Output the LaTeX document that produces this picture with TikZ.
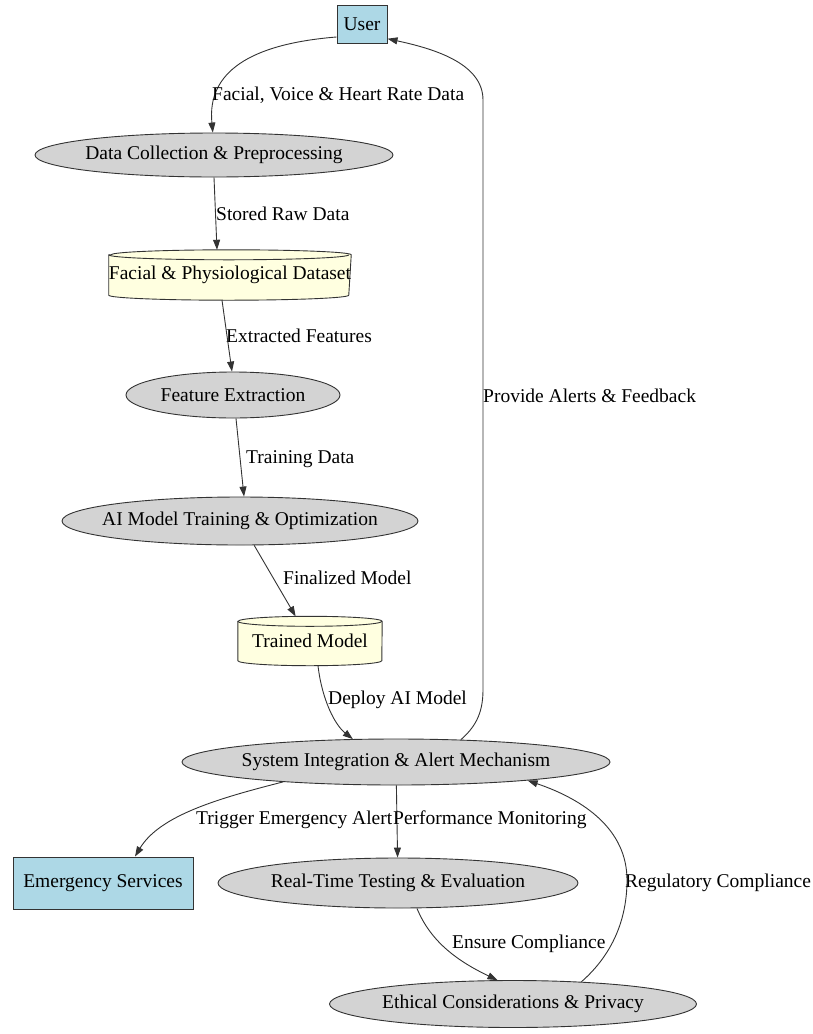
\documentclass[tikz,border=0pt]{standalone}
\usepackage{fontspec}
\setmainfont{Liberation Serif}
\usetikzlibrary{shapes.geometric,arrows.meta,backgrounds}
\definecolor{boxblue}{HTML}{ADD8E6}
\definecolor{ellgray}{HTML}{D3D3D3}
\definecolor{cylyellow}{HTML}{FFFFE0}
\definecolor{linecol}{HTML}{333333}
\newcommand\mycyl[2]{%
  \begin{scope}[on background layer]
  \filldraw[cylstyle] ([yshift=-5pt]#1.north west) -- ([yshift=5pt]#1.south west)
    arc[start angle=180,end angle=360,x radius=#2,y radius=5pt]
    -- ([yshift=-5pt]#1.north east)
    arc[start angle=0,end angle=180,x radius=#2,y radius=5pt] -- cycle;
  \draw[cylstyle,fill=none] ([yshift=-5pt]#1.north west)
    arc[start angle=180,end angle=360,x radius=#2,y radius=5pt];
  \end{scope}}
\begin{document}
\begin{tikzpicture}[x=1pt,y=-1pt,
  font=\fontsize{19.5}{22}\selectfont,
  boxnode/.style={rectangle,draw=linecol,line width=1pt,fill=boxblue,inner sep=0pt},
  ellnode/.style={ellipse,draw=linecol,line width=0.9pt,fill=ellgray,inner xsep=-18pt,inner ysep=0pt},
  cylnode/.style={rectangle,draw=none,inner sep=0pt},
  cylstyle/.style={draw=linecol,line width=0.9pt,fill=cylyellow},
  edge/.style={draw=linecol,line width=0.9pt,-{Triangle[length=10pt,width=7pt]}},
  elabel/.style={anchor=west,inner sep=0pt}]
\useasboundingbox (0,0) rectangle (812,1034);

\node[boxnode,minimum width=50pt,minimum height=38pt] (u) at (362,24) {User};
\node[ellnode,minimum width=358pt,minimum height=44pt] (dc) at (214,155) {Data Collection \& Preprocessing};
\node[cylnode,minimum width=240pt,minimum height=50pt] (ds) at (230,275) {Facial \& Physiological Dataset};
\mycyl{ds}{120pt}
\node[ellnode,minimum width=214pt,minimum height=46pt] (fe) at (233,395) {Feature Extraction};
\node[ellnode,minimum width=356pt,minimum height=48pt] (ai) at (240,521) {AI Model Training \& Optimization};
\node[cylnode,minimum width=144pt,minimum height=49pt] (tm) at (310,641) {Trained Model};
\mycyl{tm}{72pt}
\node[ellnode,minimum width=428pt,minimum height=46pt] (sys) at (396,762) {System Integration \& Alert Mechanism};
\node[boxnode,minimum width=180pt,minimum height=52pt] (em) at (103,883) {Emergency Services};
\node[ellnode,minimum width=360pt,minimum height=50pt] (rt) at (398,883) {Real-Time Testing \& Evaluation};
\node[ellnode,minimum width=367pt,minimum height=47pt] (eth) at (513,1004) {Ethical Considerations \& Privacy};

% edges
\draw[edge] (u.207) .. controls (250,44) and (207,72) .. (dc.93);
\node[elabel] (l1) at (212,95) {Facial, Voice \& Heart Rate Data};

\draw[edge] ([xshift=0pt]dc.south) -- ([xshift=-13pt]ds.north);
\node[elabel] (l2) at (216,214) {Stored Raw Data};

\draw[edge] ([xshift=-8pt]ds.south) -- ([xshift=-1pt]fe.north);
\node[elabel] (l3) at (226,336) {Extracted Features};

\draw[edge] ([xshift=3pt]fe.south) -- ([xshift=4pt]ai.north);
\node[elabel] (l4) at (246,459) {Training Data};

\draw[edge] (ai) -- (tm);
\node[elabel] (l5) at (283,578) {Finalized Model};

\draw[edge] ([xshift=8pt]tm.south) .. controls (322,700) and (335,725) .. (sys.152);
\node[elabel] (l6) at (328,700) {Deploy AI Model};

\draw[edge] (sys.19.5) .. controls (474,728) and (483,715) .. (483,690)
  -- (483,100) .. controls (483,62) and (430,48) .. (u.330);
\node[elabel] (l7) at (483,396) {Provide Alerts \& Feedback};

\draw[edge] (sys.190) .. controls (220,798) and (160,815) .. ([xshift=32pt]em.north);
\node[elabel] (l8) at (196,820) {Trigger Emergency Alert};

\draw[edge] (sys) -- (rt);
\node[elabel] (l9) at (393,820) {Performance Monitoring};

\draw[edge] ([xshift=19pt]rt.south) .. controls (430,940) and (455,960) .. (eth.123);
\node[elabel] (l10) at (452,944) {Ensure Compliance};

\draw[edge] (eth.18) .. controls (612,955) and (627,920) .. (627,880)
  .. controls (627,830) and (585,800) .. (sys.-8);
\node[elabel] (l11) at (625,883) {Regulatory Compliance};
\end{tikzpicture}
\end{document}
